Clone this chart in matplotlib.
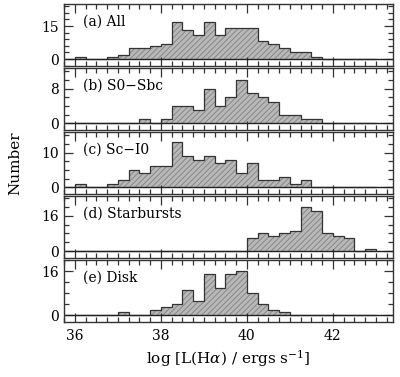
import numpy as np
import matplotlib
matplotlib.use("Agg")
import matplotlib.pyplot as plt
from matplotlib.ticker import MultipleLocator

plt.rcParams["font.family"] = "DejaVu Serif"
plt.rcParams["mathtext.fontset"] = "dejavuserif"
plt.rcParams["hatch.color"] = "#7a7a7a"
plt.rcParams["hatch.linewidth"] = 0.6

# --------------------------------------------------
# donnees : comptes par bin de 0.25 dex, de 36.0 a 43.0
# --------------------------------------------------
bin_start = 36.0
bin_width = 0.25

counts_all = [1, 0, 0, 1, 2, 5, 5, 6, 7, 17, 13, 11, 17, 11,
              14, 14, 14, 8, 7, 5, 3, 3, 1, 0, 0, 0, 0, 0]
counts_s0sbc = [0, 0, 0, 0, 0, 0, 1, 0, 1, 4, 4, 3, 8, 4,
                6, 10, 7, 6, 5, 2, 2, 1, 1, 0, 0, 0, 0, 0]
counts_sci0 = [1, 0, 0, 1, 2, 5, 4, 6, 6, 13, 9, 8, 9, 7,
               8, 4, 7, 2, 2, 3, 1, 2, 0, 0, 0, 0, 0, 0]
counts_starburst = [0, 0, 0, 0, 0, 0, 0, 0, 0, 0, 0, 0, 0, 0,
                    0, 0, 6, 8, 7, 8, 9, 20, 18, 8, 7, 6, 0, 1]
counts_disk = [0, 0, 0, 0, 1, 0, 0, 2, 3, 4, 9, 5, 15, 10,
               15, 16, 8, 4, 2, 1, 0, 0, 0, 0, 0, 0, 0, 0]

labels = ["(a) All", "(b) S0\u2212Sbc", "(c) Sc\u2212I0", "(d) Starbursts", "(e) Disk"]
all_counts = [counts_all, counts_s0sbc, counts_sci0, counts_starburst, counts_disk]
y_tops = [25, 12.8, 16, 25, 20]
y_major = [15, 8, 10, 16, 16]
y_minor = [3, 2, 2.5, 4, 4]

edges = bin_start + bin_width * np.arange(len(counts_all) + 1)

# --------------------------------------------------
# figure
# --------------------------------------------------
W, H = 400, 377
fig = plt.figure(figsize=(W / 100, H / 100), dpi=100)

left = 64 / W
width = (393 - 64) / W
panel_h = 62
tops = [4, 68, 132, 196, 260]

for i in range(5):
    bottom = 1 - (tops[i] + panel_h) / H
    ax = fig.add_axes([left, bottom, width, panel_h / H])

    ax.stairs(all_counts[i], edges, fill=True, facecolor="#b8b8b8",
              edgecolor="#808080", hatch="//////", lw=0)
    ax.stairs(all_counts[i], edges, fill=False, color="#333333", lw=0.9,
              baseline=0)
    ax.axhline(0, color="#222222", lw=1.0)

    ax.set_xlim(35.75, 43.4)
    ax.set_ylim(-y_tops[i] / 8, y_tops[i])

    ax.xaxis.set_major_locator(MultipleLocator(2))
    ax.xaxis.set_minor_locator(MultipleLocator(0.25))
    ax.yaxis.set_major_locator(MultipleLocator(y_major[i]))
    ax.yaxis.set_minor_locator(MultipleLocator(y_minor[i]))
    ax.set_yticks([0, y_major[i]])

    ax.tick_params(which="both", direction="in", top=True, right=True,
                   color="#333333", width=0.9, labelsize=10)
    ax.tick_params(which="major", length=6.5)
    ax.tick_params(which="minor", length=3.5)
    ax.tick_params(axis="x", pad=5)
    if i < 4:
        ax.tick_params(labelbottom=False)

    for s in ax.spines.values():
        s.set_linewidth(1.0)
        s.set_color("#333333")

    ax.text(0.058, 0.72, labels[i], transform=ax.transAxes, fontsize=10,
            va="center", ha="left")

fig.text(0.038, 0.568, "Number", rotation=90, fontsize=11, ha="center", va="center")
fig.text(0.57, 0.048, r"log [L(H$\alpha$) / ergs s$^{-1}$]", fontsize=11,
         ha="center", va="center")

fig.savefig("out.png", dpi=100)
